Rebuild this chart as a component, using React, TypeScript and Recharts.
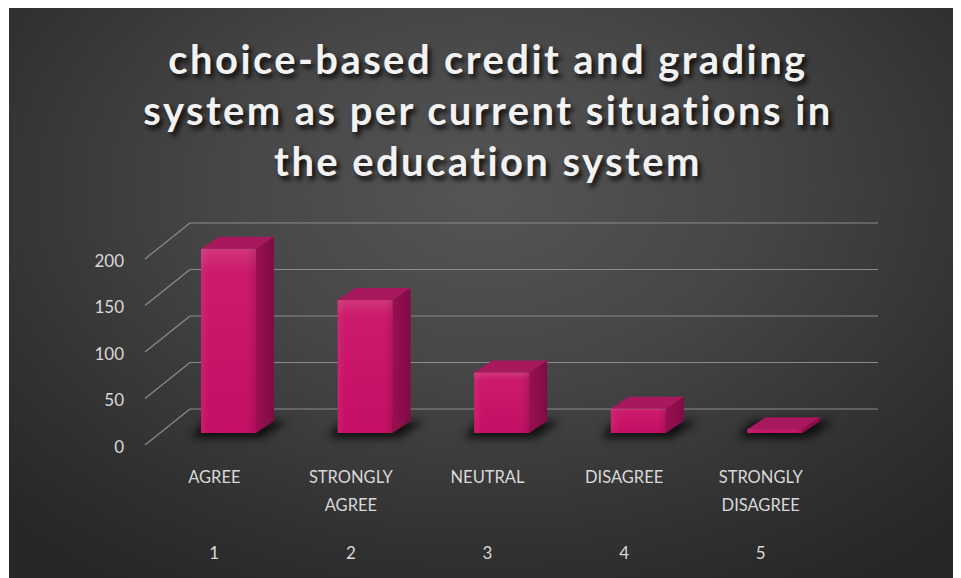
import React from "react";
import { BarChart, Bar, XAxis, YAxis, CartesianGrid } from "recharts";

const categories = ["AGREE", "STRONGLY AGREE", "NEUTRAL", "DISAGREE", "STRONGLY DISAGREE"];
const indexes = [1, 2, 3, 4, 5];
const responses = [198, 143, 65, 26, 4];
const yTicks = [0, 50, 100, 150, 200];

const titleLines = [
  "choice-based credit and grading",
  "system as per current situations in",
  "the education system",
];

const data = categories.map((name, i) => ({
  name,
  idx: indexes[i],
  value: responses[i],
}));

// 3D offsets measured from the bar front plane
const BACK_DX = 30;
const BACK_DY = -24;
const FRONT_DX = -15;
const FRONT_DY = 13;
const BAR_DX = 18;
const BAR_DY = -12;

const TEXT = "#d9d9d9";
const GRID = "#8c8c8c";
const FONT = "Lato, 'Open Sans', sans-serif";

function Bar3D(props: any) {
  const { x, y, width, height } = props;
  if (width == null || height == null) return null;
  const h = Math.max(height, 0);
  const base = y + h;
  return (
    <g>
      <polygon
        points={`${x - 10},${base + 5} ${x + width + 6},${base + 5} ${x + width + BAR_DX + 14},${base + BAR_DY} ${x + 4},${base + BAR_DY}`}
        fill="#000"
        opacity={0.75}
        filter="url(#barShadow)"
      />
      <polygon
        points={`${x + width},${y} ${x + width + BAR_DX},${y + BAR_DY} ${x + width + BAR_DX},${base + BAR_DY} ${x + width},${base}`}
        fill="url(#sideGrad)"
      />
      <polygon
        points={`${x},${y} ${x + BAR_DX},${y + BAR_DY} ${x + width + BAR_DX},${y + BAR_DY} ${x + width},${y}`}
        fill="#a8185c"
      />
      <rect x={x} y={y} width={width} height={h} fill="url(#frontGrad)" />
      <rect x={x} y={y} width={width} height={h} fill="url(#frontShade)" />
    </g>
  );
}

function gridLine(props: any) {
  const { x1, x2, y1, key } = props;
  return (
    <g key={key}>
      <line
        x1={x1 + FRONT_DX}
        y1={y1 + 12}
        x2={x1 + BACK_DX}
        y2={y1 + BACK_DY}
        stroke={GRID}
        strokeWidth={1.2}
      />
      <line
        x1={x1 + BACK_DX}
        y1={y1 + BACK_DY}
        x2={x2 + 35}
        y2={y1 + BACK_DY}
        stroke={GRID}
        strokeWidth={1.2}
      />
    </g>
  );
}

function YTick(props: any) {
  const { y, payload } = props;
  return (
    <text
      x={115}
      y={y + FRONT_DY}
      textAnchor="end"
      dominantBaseline="central"
      fill={TEXT}
      fontSize={17}
      fontFamily={FONT}
    >
      {payload.value}
    </text>
  );
}

function XTick(props: any) {
  const { x, y, payload, index } = props;
  const words = String(payload.value).split(" ");
  const cx = x - 14;
  return (
    <g>
      {words.map((w, i) => (
        <text
          key={i}
          x={cx}
          y={y + 36 + i * 28}
          textAnchor="middle"
          dominantBaseline="central"
          fill={TEXT}
          fontSize={16.5}
          fontFamily={FONT}
        >
          {w}
        </text>
      ))}
      <text
        x={cx}
        y={y + 111}
        textAnchor="middle"
        dominantBaseline="central"
        fill={TEXT}
        fontSize={17}
        fontFamily={FONT}
      >
        {indexes[index]}
      </text>
    </g>
  );
}

export default function App() {
  return (
    <div
      style={{
        position: "relative",
        width: 952,
        height: 572,
        marginLeft: 1,
        marginTop: -1,
        background:
          "radial-gradient(ellipse 70% 80% at 50% 32%, #555555 0%, #464646 40%, #303030 80%, #272727 100%)",
        overflow: "hidden",
      }}
    >
      <div
        style={{
          position: "absolute",
          left: 3,
          top: 27,
          width: 952,
          textAlign: "center",
          fontFamily: FONT,
          fontWeight: 700,
          fontSize: 40,
          lineHeight: "51px",
          letterSpacing: 2.4,
          color: "#f2f2f2",
          textShadow: "3px 4px 5px rgba(0,0,0,0.85)",
        }}
      >
        {titleLines.map((l, i) => (
          <div key={i}>{l}</div>
        ))}
      </div>
      <BarChart
        width={952}
        height={572}
        data={data}
        margin={{ top: 240, right: 118, bottom: 116, left: 91 }}
        style={{ position: "absolute", left: 0, top: 0 }}
      >
        <defs>
          <linearGradient id="frontGrad" x1="0" y1="0" x2="0" y2="1">
            <stop offset="0%" stopColor="#d2367a" />
            <stop offset="12%" stopColor="#cc1a6c" />
            <stop offset="100%" stopColor="#c40f64" />
          </linearGradient>
          <linearGradient id="frontShade" x1="0" y1="0" x2="1" y2="0">
            <stop offset="0%" stopColor="#ffffff" stopOpacity={0.06} />
            <stop offset="15%" stopColor="#ffffff" stopOpacity={0} />
            <stop offset="85%" stopColor="#000000" stopOpacity={0} />
            <stop offset="100%" stopColor="#000000" stopOpacity={0.12} />
          </linearGradient>
          <linearGradient id="sideGrad" x1="0" y1="0" x2="1" y2="0">
            <stop offset="0%" stopColor="#9a0f52" />
            <stop offset="100%" stopColor="#7f0c44" />
          </linearGradient>
          <filter id="barShadow" x="-50%" y="-100%" width="200%" height="300%">
            <feGaussianBlur stdDeviation="4" />
          </filter>
        </defs>
        <CartesianGrid vertical={false} horizontal={gridLine} />
        <XAxis
          dataKey="name"
          axisLine={false}
          tickLine={false}
          interval={0}
          height={30}
          tick={<XTick />}
        />
        <YAxis
          width={60}
          domain={[0, 200]}
          ticks={yTicks}
          axisLine={false}
          tickLine={false}
          tick={<YTick />}
        />
        <Bar dataKey="value" barSize={55} shape={<Bar3D />} isAnimationActive={false} />
      </BarChart>
    </div>
  );
}
